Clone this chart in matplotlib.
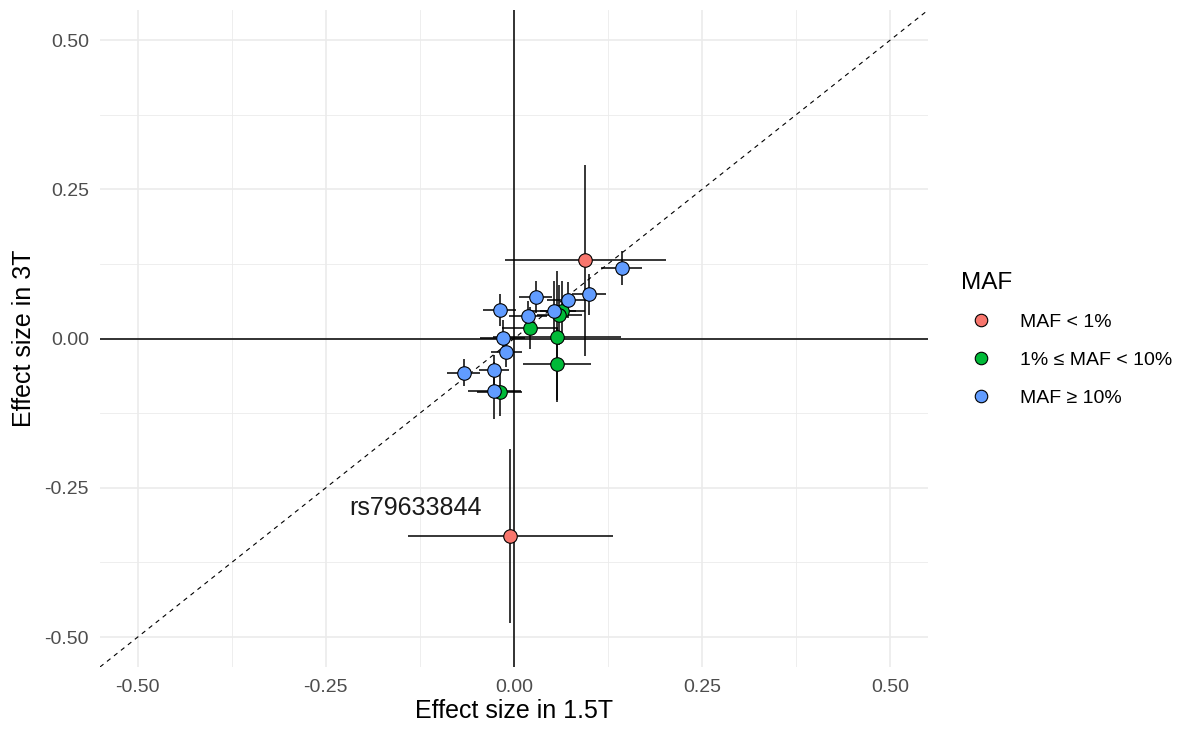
import matplotlib
matplotlib.use("Agg")
import matplotlib.pyplot as plt
from matplotlib.lines import Line2D
import numpy as np

plt.rcParams['font.family'] = ['Liberation Sans', 'DejaVu Sans']

# effect sizes
maf_group = ['lt1', 'lt1',
             'mid', 'mid', 'mid', 'mid', 'mid', 'mid',
             'hi', 'hi', 'hi', 'hi', 'hi', 'hi', 'hi', 'hi', 'hi', 'hi', 'hi', 'hi']
beta_15 = [0.095, -0.005,
           0.064, 0.021, 0.057, 0.057, -0.019,
           0.060,
           0.143, 0.0995, 0.072, 0.053, 0.029, -0.019, 0.019, -0.015, -0.010, -0.067, -0.026, -0.026]
beta_3 = [0.131, -0.331,
          0.047, 0.018, 0.003, -0.043, -0.090,
          0.040,
          0.118, 0.074, 0.065, 0.047, 0.070, 0.048, 0.038, 0.001, -0.023, -0.057, -0.052, -0.087]
se_15 = [0.107, 0.136,
         0.030, 0.037, 0.085, 0.045, 0.030,
         0.030,
         0.027, 0.023, 0.028, 0.030, 0.022, 0.022, 0.025, 0.030, 0.021, 0.022, 0.020, 0.035]
se_3 = [0.160, 0.146,
        0.050, 0.035, 0.110, 0.060, 0.040,
        0.050,
        0.028, 0.035, 0.030, 0.050, 0.027, 0.027, 0.025, 0.030, 0.025, 0.022, 0.025, 0.048]

group_labels = {'lt1': 'MAF < 1%', 'mid': '1% ≤ MAF < 10%', 'hi': 'MAF ≥ 10%'}
group_colors = {'lt1': '#F8766D', 'mid': '#00BA38', 'hi': '#619CFF'}

label_snp = 'rs79633844'
label_xy = (-0.131, -0.283)

fig = plt.figure(figsize=(11.85, 7.31), dpi=100)
ax = fig.add_axes([0.0844, 0.0876, 0.6986, 0.8984])

lim = 0.55
ax.set_xlim(-lim, lim)
ax.set_ylim(-lim, lim)

ticks = [-0.5, -0.25, 0, 0.25, 0.5]
minor = [-0.375, -0.125, 0.125, 0.375]
ax.set_xticks(ticks)
ax.set_yticks(ticks)
ax.set_xticks(minor, minor=True)
ax.set_yticks(minor, minor=True)
ax.set_xticklabels(['%.2f' % t for t in ticks])
ax.set_yticklabels(['%.2f' % t for t in ticks])
ax.grid(which='major', color='#EBEBEB', lw=1.2)
ax.grid(which='minor', color='#EBEBEB', lw=0.6)
ax.set_axisbelow(True)
for s in ax.spines.values():
    s.set_visible(False)
ax.tick_params(which='both', length=0, labelsize=14, colors='#4D4D4D')
ax.tick_params(axis='y', pad=8)
ax.tick_params(axis='x', pad=9)

ax.axhline(0, color='black', lw=1.1, zorder=1)
ax.axvline(0, color='black', lw=1.1, zorder=1)
ax.plot([-lim, lim], [-lim, lim], ls=(0, (4, 4)), color='black', lw=0.8, zorder=1)

ax.errorbar(beta_15, beta_3, xerr=se_15, yerr=se_3, fmt='none',
            ecolor='black', elinewidth=1.1, capsize=0, zorder=2)

for g in ['lt1', 'mid', 'hi']:
    xs = [x for x, gg in zip(beta_15, maf_group) if gg == g]
    ys = [y for y, gg in zip(beta_3, maf_group) if gg == g]
    ax.scatter(xs, ys, s=95, color=group_colors[g], edgecolors='black',
               linewidths=0.8, zorder=3)

ax.text(label_xy[0], label_xy[1], label_snp, ha='center', va='center',
        fontsize=18, color='#1A1A1A')

ax.set_xlabel('Effect size in 1.5T', fontsize=18, labelpad=2)
ax.set_ylabel('Effect size in 3T', fontsize=18, labelpad=6)

handles = [Line2D([], [], ls='none', marker='o', markersize=9,
                  markerfacecolor=group_colors[g], markeredgecolor='black',
                  markeredgewidth=0.8, label=group_labels[g])
           for g in ['lt1', 'mid', 'hi']]
leg = fig.legend(handles=handles, title='MAF', loc='upper left',
                 bbox_to_anchor=(0.803, 0.641), frameon=False,
                 fontsize=14, title_fontsize=17.5, labelspacing=1.05,
                 handletextpad=1.0, borderpad=0)
leg._legend_box.align = 'left'
leg._legend_box.sep = 14

fig.savefig('out.png', dpi=100)
